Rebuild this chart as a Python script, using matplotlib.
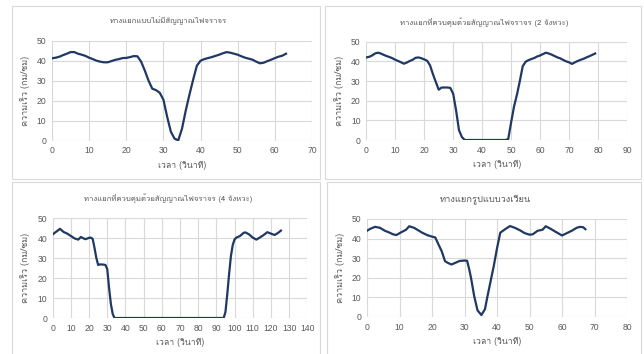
import matplotlib
matplotlib.use('Agg')
import matplotlib.pyplot as plt
from matplotlib import font_manager
from matplotlib.ft2font import FT2Font

# --- data (time in s, speed in km/h) ---
t_nosignal = list(range(0, 64))
v_nosignal = [41.2, 41.5, 42.0, 42.8, 43.5, 44.3, 44.3, 43.5, 43.0, 42.4,
              41.5, 40.8, 40.0, 39.5, 39.2, 39.2, 39.8, 40.4, 40.8, 41.3,
              41.4, 41.8, 42.3, 42.2, 39.5, 35.0, 30.0, 26.0, 25.3, 24.0,
              20.5, 12.0, 4.5, 1.0, 0.2, 6.0, 15.0, 23.0, 30.5, 37.5,
              40.0, 40.8, 41.3, 41.8, 42.4, 43.0, 43.7, 44.3, 44.0, 43.5,
              43.0, 42.2, 41.5, 41.0, 40.5, 39.5, 38.7, 39.0, 39.8, 40.5,
              41.3, 42.0, 42.5, 43.5]

t_signal2 = [0, 1, 2, 3, 4, 5, 6, 7, 8, 9, 10, 11, 12, 13, 14, 15, 16, 17, 18,
             19, 20, 21, 22, 23, 24, 25, 26, 27, 28, 29, 30, 31, 32, 33, 34,
             48, 49, 50, 51, 52, 53, 54, 55, 56, 57, 58, 59, 60, 61, 62, 63,
             64, 65, 66, 67, 68, 69, 70, 71, 72, 73, 74, 75, 76, 77, 78, 79]
v_signal2 = [42.0, 42.3, 43.0, 44.0, 44.4, 44.0, 43.3, 42.7, 42.2, 41.6,
             40.8, 40.2, 39.5, 38.8, 39.4, 40.2, 40.8, 41.8, 42.0, 41.6,
             41.0, 40.3, 38.0, 33.5, 29.5, 25.6, 26.7, 26.7, 26.7, 26.5,
             23.5, 15.0, 5.0, 1.5, 0.0,
             0.0, 0.5, 9.0, 17.0, 23.0, 30.0, 37.5, 39.8, 40.6, 41.2,
             41.7, 42.5, 43.0, 43.7, 44.4, 44.0, 43.4, 42.7, 42.0, 41.5,
             40.7, 40.0, 39.5, 38.7, 39.5, 40.2, 40.8, 41.3, 42.0, 42.6,
             43.3, 44.0]

t_signal4 = [0, 2, 4, 6, 8, 10, 12, 14, 15.5, 17, 18, 20, 21, 22, 23,
             24, 25, 26, 28, 29, 30, 31, 32, 33, 34,
             94, 95, 96, 97, 98, 99, 100, 101, 103, 105, 106, 108, 110,
             112, 114, 116, 118, 120, 122, 124, 125.5]
v_signal4 = [41.8, 43.2, 44.6, 43.0, 42.2, 41.0, 39.8, 39.2, 40.5, 39.8,
             39.4, 40.1, 40.2, 39.5, 35.0, 30.0, 26.5, 26.8, 26.7, 26.5,
             24.5, 15.0, 7.0, 2.0, 0.0,
             0.0, 3.0, 12.0, 22.0, 31.0, 36.5, 39.3, 40.2, 41.0, 42.6,
             42.8, 41.8, 40.2, 39.2, 40.3, 41.5, 42.9, 42.2, 41.5, 42.6,
             43.7]

t_round = [0, 1, 2.5, 4, 5.5, 7, 8, 9, 10.5, 12, 13, 14.5, 16, 17, 18.5,
           20, 21, 22, 23, 24, 25, 26, 27, 28.5, 30, 30.8, 31.5, 32, 33,
           34, 35.2, 36.3, 37, 38, 39, 40, 41, 42.5, 44, 45.5, 47, 48.5,
           50, 51, 52.5, 54, 55, 56.5, 58, 60, 61.5, 63, 64.5, 65.5, 66.5,
           67.2]
v_round = [44.0, 45.0, 46.0, 45.5, 44.0, 43.0, 42.2, 41.8, 43.2, 44.5,
           46.3, 45.5, 44.0, 43.0, 41.8, 41.0, 40.6, 37.0, 33.5, 28.5,
           27.5, 26.8, 27.5, 28.6, 28.8, 28.7, 24.0, 20.0, 10.5, 3.4,
           1.0, 4.0, 10.0, 18.0, 26.0, 35.0, 43.0, 44.8, 46.4, 45.5,
           44.3, 42.8, 42.0, 42.2, 44.0, 44.5, 46.3, 45.0, 43.5, 41.6,
           42.8, 44.0, 45.5, 46.0, 45.8, 44.8]


def pick_thai_font():
    for entry in font_manager.fontManager.ttflist:
        try:
            if 0x0E17 in FT2Font(entry.fname).get_charmap():
                return entry.name
        except Exception:
            continue
    return 'DejaVu Sans'


plt.rcParams['font.family'] = [pick_thai_font(), 'DejaVu Sans']

W, H = 644, 354
LINE = '#203864'
GRID = '#D9D9D9'
TXT = '#595959'

fig = plt.figure(figsize=(W / 100, H / 100), dpi=100)
fig.patch.set_facecolor('white')


def px_box(x0, x1, y0, y1):
    # pixel box (top-left origin) -> figure fraction
    return [x0 / W, 1 - y1 / H, (x1 - x0) / W, (y1 - y0) / H]


# chart frames like the spreadsheet chart areas
for x0, y0, x1, y1 in [(12, 6, 320, 179), (325, 6, 641, 179),
                       (12, 182, 320, 356), (327, 182, 641, 356)]:
    fig.patches.append(plt.Rectangle((x0 / W, 1 - y1 / H), (x1 - x0) / W,
                                     (y1 - y0) / H, transform=fig.transFigure,
                                     fill=False, edgecolor='#D9D9D9', lw=0.8))

panels = [
    (t_nosignal, v_nosignal, 'ทางแยกแบบไม่มีสัญญาณไฟจราจร', 70, 10,
     (52, 312, 40.7, 140.7), 168, 5.6),
    (t_signal2, v_signal2, 'ทางแยกที่ควบคุมด้วยสัญญาณไฟจราจร (2 จังหวะ)', 90, 10,
     (366.3, 627, 41.7, 140), 484, 5.6),
    (t_signal4, v_signal4, 'ทางแยกที่ควบคุมด้วยสัญญาณไฟจราจร (4 จังหวะ)', 140, 10,
     (52.7, 307.3, 218, 318), 168, 5.6),
    (t_round, v_round, 'ทางแยกรูปแบบวงเวียน', 80, 10,
     (367, 627, 219, 317), 485, 6.7),
]

for t, v, title, xmax, xstep, box, title_x, title_fs in panels:
    ax = fig.add_axes(px_box(*box))
    ax.plot(t, v, color=LINE, lw=1.6, solid_joinstyle='round')
    ax.set_xlim(0, xmax)
    ax.set_ylim(0, 50)
    ax.set_xticks(range(0, xmax + 1, xstep))
    ax.set_yticks(range(0, 51, 10))
    ax.grid(True, color=GRID, lw=0.8)
    ax.set_axisbelow(True)
    for s in ax.spines.values():
        s.set_visible(False)
    ax.tick_params(length=0, labelsize=6.2, colors=TXT, pad=4)
    for lab in ax.get_xticklabels() + ax.get_yticklabels():
        lab.set_family(['Liberation Sans', 'DejaVu Sans'])
    ax.set_xlabel('เวลา (วินาที)', fontsize=6.3, color=TXT, labelpad=4)
    ax.set_ylabel('ความเร็ว (กม/ชม)', fontsize=6.5, color=TXT, labelpad=5)
    fig.text(title_x / W, 1 - (box[2] - 20) / H, title, ha='center',
             va='center', fontsize=title_fs, color=TXT)

fig.savefig('out.png', dpi=100, facecolor='white')
